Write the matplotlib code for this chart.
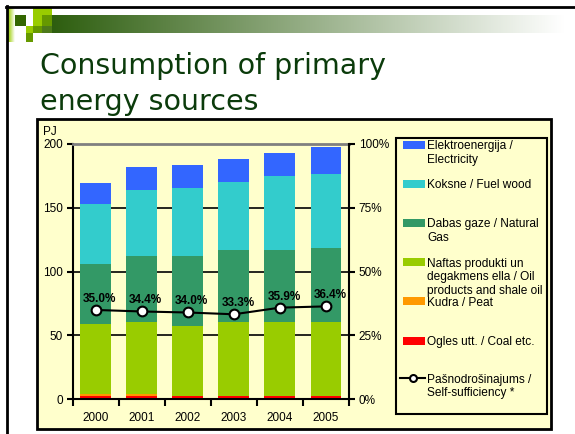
import numpy as np
import matplotlib
matplotlib.use('Agg')
import matplotlib.pyplot as plt
from matplotlib.patches import Rectangle
from matplotlib.lines import Line2D

# Data (PJ)
years = ['2000', '2001', '2002', '2003', '2004', '2005']
coal = [2.6, 2.6, 2.4, 2.4, 2.4, 2.4]
peat = [1.6, 1.6, 0.4, 0.3, 0.3, 0.3]
oil = [54.8, 56.4, 54.7, 57.9, 57.9, 57.9]
gas = [47.0, 51.8, 54.9, 56.4, 56.4, 58.1]
wood = [47.0, 51.6, 53.3, 53.4, 58.0, 58.0]
electricity = [16.6, 18.0, 18.0, 18.1, 18.0, 21.2]
self_suff = [35.0, 34.4, 34.0, 33.3, 35.9, 36.4]

series = [coal, peat, oil, gas, wood, electricity]
colors = ['#FF0000', '#FF9900', '#99CC00', '#339966', '#33CCCC', '#3366FF']

legend_labels = ['Elektroenergija /\nElectricity',
                 'Koksne / Fuel wood',
                 'Dabas gaze / Natural\nGas',
                 'Naftas produkti un\ndegakmens ella / Oil\nproducts and shale oil',
                 'Kudra / Peat',
                 'Ogles utt. / Coal etc.']
legend_colors = ['#3366FF', '#33CCCC', '#339966', '#99CC00', '#FF9900', '#FF0000']
line_label = 'Pašnodrošinajums /\nSelf-sufficiency *'

W, H = 575, 434
fig = plt.figure(figsize=(W / 100, H / 100), dpi=100, facecolor='white')

# background layer in pixel coordinates
bg = fig.add_axes([0, 0, 1, 1], zorder=0)
bg.set_xlim(0, W)
bg.set_ylim(H, 0)
bg.axis('off')

# slide border
bg.add_line(Line2D([6, W], [7, 7], color='black', lw=2))
bg.add_line(Line2D([7, 7], [6, H], color='black', lw=2))

# header gradient bar
grad = np.linspace(0, 1, 256).reshape(1, -1)
green = np.array([0.18, 0.37, 0.06])
img = green[None, None, :] * (1 - grad[..., None]) + np.ones(3)[None, None, :] * grad[..., None]
bg.imshow(img, extent=[52, 565, 33, 15], aspect='auto')
stripe = np.linspace(0, 1, 32).reshape(1, -1)
lime = np.array([0.6, 0.8, 0.0])
img2 = lime[None, None, :] * (1 - stripe[..., None]) + np.ones(3)[None, None, :] * stripe[..., None]
bg.imshow(img2, extent=[8, 15, 42, 8], aspect='auto')
squares = [(15, 15, 11, 11, '#336600'), (33, 8, 19, 7, '#99CC00'),
           (33, 15, 9, 11, '#99CC00'), (42, 15, 10, 11, '#669900'),
           (42, 26, 10, 7, '#4d7a1a'),
           (26, 26, 7, 7, '#99CC00'), (33, 26, 9, 7, '#669900'),
           (26, 33, 7, 9, '#669900')]
for x, y, w, h, c in squares:
    bg.add_patch(Rectangle((x, y), w, h, color=c, lw=0))
bg.set_xlim(0, W)
bg.set_ylim(H, 0)

# title
bg.text(40, 74, 'Consumption of primary', fontsize=20.5, color='#0B3B0B',
        family='DejaVu Sans', va='baseline', ha='left')
bg.text(40, 110, 'energy sources', fontsize=20.5, color='#0B3B0B',
        family='DejaVu Sans', va='baseline', ha='left')

# chart frame
bg.add_patch(Rectangle((37, 119), 514, 310, facecolor='#FFFFCC', edgecolor='black', lw=2))
bg.text(43, 132, 'PJ', fontsize=8.5, family='Liberation Sans', va='center', ha='left')

# legend box
bg.add_patch(Rectangle((396, 138), 151, 276, facecolor='none', edgecolor='black', lw=1.5))
ent_y = [145, 184, 223, 262, 301, 341]
for yy, lab, c in zip(ent_y, legend_labels, legend_colors):
    bg.add_patch(Rectangle((403, yy - 4), 22, 8, color=c, lw=0))
    bg.text(427, yy - 4.5, lab, fontsize=8.6, family='Liberation Sans', va='top',
            ha='left', linespacing=1.18)
bg.add_line(Line2D([400, 425], [378, 378], color='black', lw=1.5))
bg.plot([413], [378], marker='o', ms=5, mfc='white', mec='black', mew=1.5)
bg.text(427, 373.5, line_label, fontsize=8.6, family='Liberation Sans', va='top',
        ha='left', linespacing=1.18)

# main chart
ax = fig.add_axes([72.7 / W, 1 - 399.3 / H, 276.3 / W, 255.3 / H], zorder=1)
ax.set_facecolor('none')
x = np.arange(len(years))
bottom = np.zeros(len(years))
for vals, c in zip(series, colors):
    ax.bar(x, vals, width=0.67, bottom=bottom, color=c, lw=0, zorder=2)
    bottom += np.array(vals)

ax.set_xlim(-0.5, 5.5)
ax.set_ylim(0, 200)
ax.set_yticks([0, 50, 100, 150, 200])
ax.set_xticks(x)
ax.set_xticklabels(years)
ax.set_xticks(np.arange(-0.5, 6, 1), minor=True)
ax.tick_params(axis='x', which='major', length=0, pad=9)
ax.tick_params(axis='x', which='minor', length=5, width=1.5, direction='out')
ax.tick_params(axis='y', length=4, width=1.5, direction='out', pad=3)
for lab in ax.get_xticklabels() + ax.get_yticklabels():
    lab.set_fontfamily('Liberation Sans')
    lab.set_fontsize(8.5)
ax.yaxis.grid(True, color='black', lw=1.2)
ax.set_axisbelow(True)
ax.spines['top'].set_color('#808080')
ax.spines['top'].set_linewidth(2)
ax.spines['right'].set_visible(False)
ax.spines['left'].set_linewidth(1.5)
ax.spines['bottom'].set_linewidth(1.5)

ax2 = ax.twinx()
ax2.set_ylim(0, 100)
ax2.set_yticks([0, 25, 50, 75, 100])
ax2.set_yticklabels(['0%', '25%', '50%', '75%', '100%'])
ax2.tick_params(axis='y', length=4, width=1.5, direction='out', pad=3)
for lab in ax2.get_yticklabels():
    lab.set_fontfamily('Liberation Sans')
    lab.set_fontsize(8.5)
for s in ['top', 'left', 'bottom']:
    ax2.spines[s].set_visible(False)
ax2.spines['right'].set_linewidth(1.5)
ax2.plot(x, self_suff, color='black', lw=1.5, marker='o', ms=7,
         mfc='white', mec='black', mew=1.5, zorder=3)
for xi, v in zip(x, self_suff):
    ax2.annotate(f'{v:.1f}%', (xi, v), xytext=(4, 8), textcoords='offset pixels',
                 ha='center', va='baseline', fontsize=8.5, fontweight='bold',
                 family='Liberation Sans')

fig.savefig('out.png', dpi=100)
